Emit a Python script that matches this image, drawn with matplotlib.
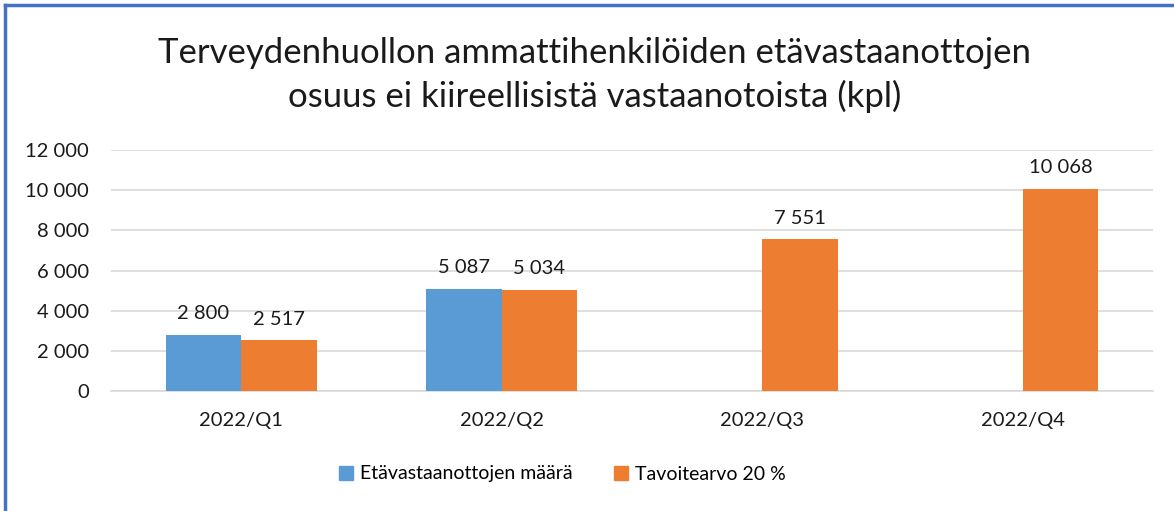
import numpy as np
import matplotlib
matplotlib.use('Agg')
from matplotlib import pyplot as plt
from matplotlib.lines import Line2D

categories = ['2022/Q1', '2022/Q2', '2022/Q3', '2022/Q4']
maara = [2800, 5087, np.nan, np.nan]
tavoite = [2517, 5034, 7551, 10068]
series_names = ['Etävastaanottojen määrä', 'Tavoitearvo 20 %']
yticks = [0, 2000, 4000, 6000, 8000, 10000, 12000]

blue = '#5B9BD5'
orange = '#ED7D31'
txt = '#1a1a1a'
fs = 14.5

def fmt(v):
	return '{:,.0f}'.format(v).replace(',', ' ')

plt.rcParams['font.family'] = ['Lato', 'DejaVu Sans']

fig = plt.figure(figsize=(11.74, 5.11), dpi=100)
ax = fig.add_axes([111/1174, 1 - 391/511, (1153-111)/1174, (391-150)/511])

x = np.arange(len(categories))
w = 0.29
b1 = ax.bar(x - w/2, maara, w, color=blue, label=series_names[0], zorder=3)
b2 = ax.bar(x + w/2, tavoite, w, color=orange, label=series_names[1], zorder=3)

for bars, vals in [(b1, maara), (b2, tavoite)]:
	for rect, v in zip(bars, vals):
		if np.isnan(v):
			continue
		ax.annotate(fmt(v), (rect.get_x() + rect.get_width()/2, v), xytext=(0, 9),
			textcoords='offset points', ha='center', va='bottom', fontsize=fs, color=txt)

ax.set_xlim(-0.5, len(categories) - 0.5)
ax.set_ylim(0, 12000)
ax.set_yticks(yticks)
ax.set_yticklabels([fmt(v) for v in yticks], fontsize=fs, color=txt)
ax.set_xticks(x)
ax.set_xticklabels(categories, fontsize=fs, color=txt)
ax.tick_params(axis='both', length=0)
ax.tick_params(axis='y', pad=16)
ax.tick_params(axis='x', pad=15)
ax.grid(axis='y', color='#D9D9D9', linewidth=1.2, zorder=0)
for s in ['top', 'right', 'left']:
	ax.spines[s].set_visible(False)
ax.spines['bottom'].set_color('#D9D9D9')
ax.spines['bottom'].set_linewidth(1.2)

fig.text(595/1174, 1 - 75/511, 'Terveydenhuollon ammattihenkilöiden etävastaanottojen\nosuus ei kiireellisistä vastaanotoista (kpl)',
	ha='center', va='center', fontsize=25, linespacing=1.38, color=txt)

handles = [Line2D([], [], marker='s', linestyle='none', markersize=10.5, color=blue),
	Line2D([], [], marker='s', linestyle='none', markersize=10.5, color=orange)]
fig.legend(handles, series_names, loc='center', bbox_to_anchor=(560/1174, 1 - 474/511), ncol=2,
	frameon=False, fontsize=14, handletextpad=0.1, handlelength=1.2, columnspacing=1.9)

# border of the chart box
fig.add_artist(Line2D([5/1174, 5/1174], [0, 1 - 5/511], color='#4472C4', linewidth=2.5))
fig.add_artist(Line2D([5/1174, 1], [1 - 5/511, 1 - 5/511], color='#4472C4', linewidth=2.5))

fig.savefig('out.png', dpi=100)
